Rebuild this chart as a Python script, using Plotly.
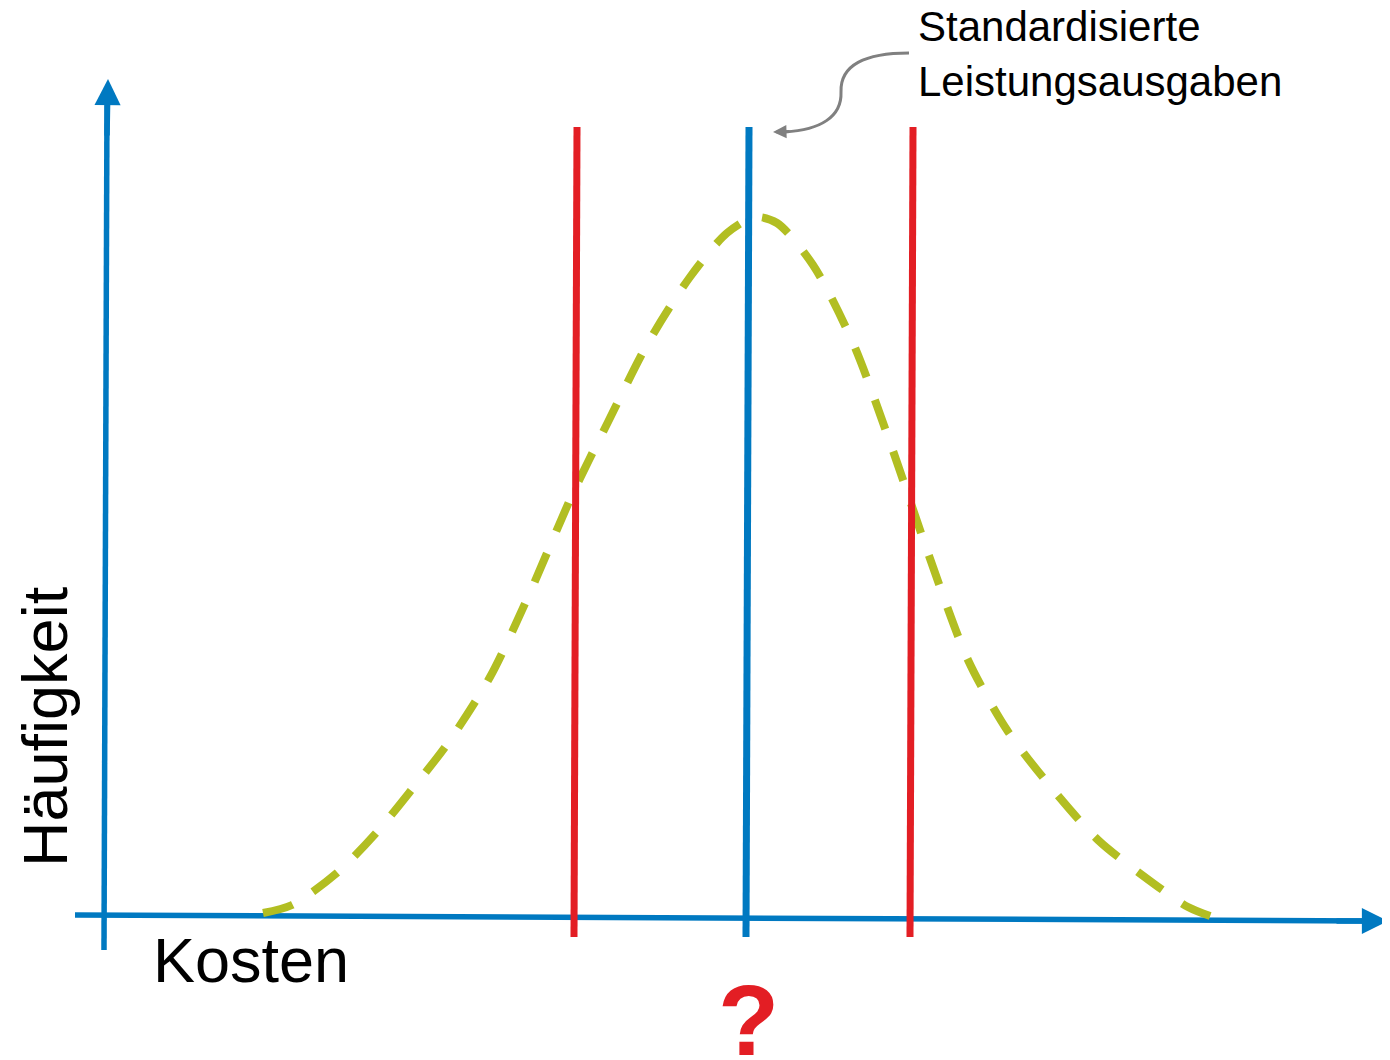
import plotly.graph_objects as go

# Dashed bell curve (Kosten vs. Häufigkeit)
kosten = [15.8, 18.7, 23.3, 27.2, 30.8, 34.3, 38.5, 42.3, 46.8, 50.3, 54.3, 58.5, 62.2,
          65.0, 67.2, 70.8, 74.8, 78.7, 82.3, 86.3, 90.2, 94.5, 99.3, 103.7, 108.3, 110.8]
haeufigkeit = [0.4, 1.2, 4.5, 8.5, 12.9, 17.4, 24.0, 32.0, 42.4, 49.5, 57.4, 64.0, 68.4,
               70.0, 69.4, 65.2, 57.4, 46.9, 36.4, 25.7, 18.7, 13.1, 7.7, 4.2, 1.0, 0.0]

# vertical markers: lower limit, standardised output, upper limit
marker_names = ["untere Grenze", "Standardisierte Leistungsausgaben", "obere Grenze"]
marker_kosten_top = [47.2, 64.4, 80.8]
marker_kosten_bottom = [46.9, 64.1, 80.5]
marker_top = 79.0
marker_bottom = -2.0

BLUE = "#0079c1"
RED = "#e31e24"
GREEN = "#b2be22"
GREY = "#808080"
FONT = "Liberation Sans, Arial, sans-serif"

marker_colors = [RED, BLUE, RED]

fig = go.Figure()
fig.add_trace(go.Scatter(
    x=kosten, y=haeufigkeit, mode="lines", name="Verteilung",
    line=dict(color=GREEN, width=8, dash="31px,24px", shape="spline", smoothing=0.8),
    hoverinfo="skip",
))
for name, xt, xb, color in zip(marker_names, marker_kosten_top, marker_kosten_bottom, marker_colors):
    fig.add_trace(go.Scatter(
        x=[xb, xt], y=[marker_bottom, marker_top], mode="lines", name=name,
        line=dict(color=color, width=7), hoverinfo="name",
    ))

# axis shafts under the data, heads as annotations
fig.add_shape(type="line", x0=-3.0, y0=0.2, x1=126.5, y1=-0.4, layer="below",
              line=dict(color=BLUE, width=5.5))
fig.add_shape(type="line", x0=-0.1, y0=-3.3, x1=0.2, y1=82.0, layer="below",
              line=dict(color=BLUE, width=5.5))
fig.add_annotation(x=128.3, y=-0.4, ax=123.0, ay=-0.4, axref="x", ayref="y", text="",
                   showarrow=True, arrowhead=2, arrowwidth=5.5, arrowsize=0.95, arrowcolor=BLUE)
fig.add_annotation(x=0.3, y=83.8, ax=0.2, ay=78.0, axref="x", ayref="y", text="",
                   showarrow=True, arrowhead=2, arrowwidth=5.5, arrowsize=0.95, arrowcolor=BLUE)

# curved pointer from the label to the blue line
fig.add_shape(type="path", path="M 80.4,86.4 C 76.0,86.4 73.5,85.2 73.6,82.5 C 73.7,80.0 71.5,78.7 68.0,78.5",
              line=dict(color=GREY, width=3))
fig.add_annotation(x=66.8, y=78.5, ax=68.6, ay=78.55, axref="x", ayref="y", text="",
                   showarrow=True, arrowhead=2, arrowwidth=3, arrowsize=0.9, arrowcolor=GREY)

fig.add_annotation(x=81.1, y=86.3, text="Standardisierte<br>Leistungsausgaben", showarrow=False,
                   xanchor="left", yanchor="middle", align="left",
                   font=dict(family=FONT, size=42, color="black"))
fig.add_annotation(x=14.6, y=-4.3, text="Kosten", showarrow=False,
                   font=dict(family=FONT, size=63, color="black"))
fig.add_annotation(x=-6.0, y=19.0, text="Häufigkeit", showarrow=False, textangle=-90,
                   font=dict(family=FONT, size=63, color="black"))
fig.add_annotation(x=64.3, y=-10.3, text="<b>?</b>", showarrow=False,
                   font=dict(family=FONT, size=100, color=RED))

# the page adds an 8px body margin, so the figure covers 1382x1052 from (8, 8)
fig.update_layout(
    width=1382, height=1052,
    margin=dict(l=0, r=0, t=0, b=0),
    paper_bgcolor="white", plot_bgcolor="white",
    showlegend=False,
    xaxis=dict(visible=False, range=[-9.7, 128.5]),
    yaxis=dict(visible=False, range=[-14.3, 90.9]),
)
fig.write_html("out.html")
